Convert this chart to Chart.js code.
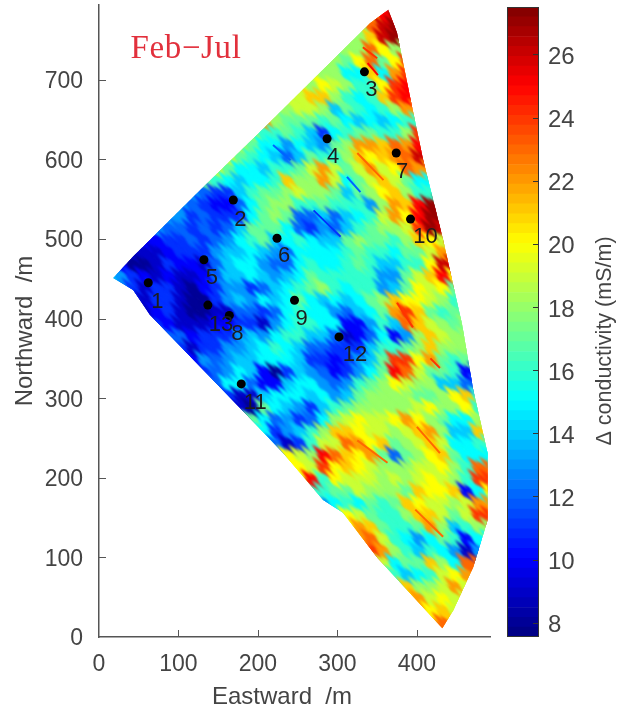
<!DOCTYPE html>
<html>
<head>
<meta charset="utf-8">
<style>
html, body { margin: 0; padding: 0; background: #fff; }
canvas { position: absolute; left: 0; top: 0; }
</style>
<script src="https://cdn.jsdelivr.net/npm/chart.js@4"></script>
</head>
<body>
<canvas id="fancanvas" width="619" height="712"></canvas>
<canvas id="barcanvas" width="619" height="712"></canvas>
<script>
// grid rows, north to south, 15 m cells
var northing = [780,765,750,735,720,705,690,675,660,645,630,615,600,585,570,555,540,525,510,495,480,465,450,435,420,405,390,375,360,345,330,315,300,285,270,255,240,225,210,195,180,165,150,135,120,105,90,75,60,45,30,15];
var firstEast = [345,330,315,300,285,270,255,240,225,210,195,180,165,150,135,120,105,90,75,60,45,30,15,30,45,60,75,90,105,120,135,150,165,180,180,195,210,225,240,255,270,285,315,315,330,345,360,360,375,390,405,420];
var conductivity = [
[22,25,27],
[18,23,26,27],
[18,18,21,26,27,27],
[18,18,18,23,20,18,18],
[18,18,17,20,23,17,20,24],
[19,18,18,15,15,21,15,22,24],
[19,18,20,19,18,16,16,20,24,25],
[19,19,21,21,18,16,15,16,21,24,25,25],
[18,18,19,19,18,14,17,16,15,16,18,22,22],
[22,18,17,17,17,16,17,15,14,15,14,15,16,16],
[18,16,16,17,16,14,11,15,16,17,17,16,16,18,24],
[18,17,15,15,13,15,14,13,17,18,22,22,21,23,22,25],
[19,17,16,15,14,12,14,17,16,16,18,21,20,21,22,23,26,26],
[19,17,15,15,14,16,16,17,19,22,19,17,19,22,19,20,23,22,22],
[17,16,15,14,15,15,16,21,18,18,22,19,15,17,19,21,19,17,15,15],
[13,12,11,11,14,16,17,17,18,19,18,18,17,14,17,18,20,21,18,16,16],
[13,12,11,10,10,12,15,17,18,18,16,16,17,16,16,16,13,18,22,21,25,27,27],
[13,13,11,12,11,11,11,15,17,18,17,12,12,14,12,14,15,16,19,22,20,25,27,27],
[13,12,12,11,12,11,12,14,17,17,17,15,12,11,13,12,14,16,17,18,18,19,24,27,26],
[10,10,11,11,12,11,12,13,15,16,17,14,15,16,15,14,14,17,18,17,17,16,18,21,20,19],
[9,9,9,10,11,11,11,13,14,14,15,14,13,12,15,15,15,15,16,17,16,16,15,17,17,19,22,23],
[10,8,8,9,11,10,10,9,12,14,15,15,13,12,12,15,16,15,15,16,17,16,14,14,16,16,20,26,26],
[14,13,11,10,9,10,9,9,10,12,14,14,15,14,13,14,15,17,16,16,16,16,16,13,13,17,19,21,25,20],
[12,11,9,11,11,9,8,10,11,13,13,11,12,14,15,16,17,18,16,15,16,16,13,14,17,20,19,20,17],
[9,9,11,11,9,8,8,11,13,14,13,15,14,15,17,15,14,15,14,15,17,18,21,20,20,19,18,16],
[9,10,11,9,8,8,9,9,12,12,11,12,15,16,15,15,13,12,14,15,17,22,24,21,17,16,17,17],
[11,10,9,9,9,10,10,11,11,9,13,15,16,16,15,15,10,10,13,16,14,23,21,19,18,17,18],
[12,12,10,11,11,11,13,14,13,15,16,16,14,14,12,9,10,12,15,10,13,18,21,19,18,18],
[11,9,11,11,13,13,14,15,16,15,14,12,12,11,11,11,14,16,16,17,18,21,18,18,18],
[10,13,12,13,14,14,15,15,15,14,11,11,10,11,13,14,17,24,24,20,22,17,16,17,14],
[11,12,13,15,14,10,8,11,14,13,12,10,11,13,15,17,25,23,19,17,17,16,10,10],
[12,15,15,12,10,10,14,15,15,13,12,13,16,17,18,20,19,18,18,14,14,12,12],
[11,9,9,14,15,15,15,14,15,13,14,17,18,18,18,18,17,17,18,20,21,16],
[9,8,17,15,14,13,11,14,16,17,18,18,18,18,18,19,20,18,18,20,16],
[17,17,15,12,13,11,12,15,18,19,20,19,19,20,22,20,18,17,15,15,18,18],
[17,15,11,13,14,16,18,21,21,20,19,19,18,19,21,22,18,14,14,21,21],
[15,12,9,11,16,19,19,23,22,20,21,17,18,19,21,19,15,15,16,16],
[17,20,19,18,25,23,21,20,22,17,12,17,18,20,21,17,15,15,15],
[20,20,19,24,20,21,20,19,18,18,18,19,19,20,18,16,23,23],
[19,25,16,20,19,19,19,18,19,18,19,20,19,18,16,24,24],
[16,16,17,17,19,18,18,18,17,21,20,20,21,10,15,20],
[13,15,16,15,17,16,17,21,20,19,19,18,19,22,22],
[20,19,17,16,16,18,21,21,19,17,19,24,24],
[20,22,21,17,16,16,17,22,18,14,16,18,18],
[22,23,19,16,15,13,15,17,16,10,15,15],
[24,22,18,16,14,16,15,13,9,13],
[19,15,17,17,21,18,15,23,23],
[17,16,14,15,16,19,20,22],
[17,21,18,18,19,22,19],
[21,22,19,20,19,19],
[21,20,21,19],
[22,23]
];
var cellEast = 15;

// edge of the surveyed area
var outlineEast = [364,341,207,130,42,18,43,64,186,232,282,307,350,432,446,471,489,489,471,457,433,408,394,375];
var outlineNorth = [788,771,639,564,477,451,436,405,279,231,172,156,100,11,34,88,147,231,310,392,499,599,666,759];

// thin streaks
var streakStartEast = [270,312,219,325,375,332,338,325,400,398,417];
var streakStartNorth = [536,578,618,608,420,741,721,247,264,160,350];
var streakEndEast = [304,329,241,358,395,350,351,363,429,433,429];
var streakEndNorth = [503,559,599,574,389,727,706,219,231,126,338];
var streakValue = [11,12,12,23,24,24,25,23,23,23,24];

// moorings
var stationLabels = ['1','2','3','4','5','6','7','8','9','10','11','12','13'];
var stationEast = [62,169,334,287,132,224,374,164,246,392,179,302,137];
var stationNorth = [445,549,710,626,474,501,608,404,423,525,318,377,417];

var eastTicks = [0,100,200,300,400];
var northTicks = [0,100,200,300,400,500,600,700];
var barTicks = [8,10,12,14,16,18,20,22,24,26];
var barMin = 7.55;
var barMax = 27.5;
var barLevels = 64;

var labelDx = [9,7,7,6,8,7,6,8,7,15,14,16,13];
var labelDy = [19,20,18,18,18,18,19,19,19,18,19,18,20];

function jet(v) {
    var t = (v - barMin) / (barMax - barMin);
    function c(a) { return Math.round(255 * Math.max(0, Math.min(1, 1.5 - Math.abs(4 * t - a)))); }
    return 'rgb(' + c(3) + ',' + c(2) + ',' + c(1) + ')';
}

// one long NW-SE sliver per colour, the survey's grain runs that way
var sliverCache = {};
function sliver(color) {
    if (sliverCache[color]) return sliverCache[color];
    var c = document.createElement('canvas');
    c.width = 30; c.height = 30;
    var g = c.getContext('2d');
    g.fillStyle = color;
    g.beginPath();
    g.moveTo(1, 1); g.lineTo(18, 12); g.lineTo(29, 29); g.lineTo(12, 18);
    g.closePath();
    g.fill();
    sliverCache[color] = c;
    return c;
}

var cellPoints = [], cellColors = [], cellSlivers = [];
northing.forEach(function(n, i) {
    conductivity[i].forEach(function(v, j) {
        cellPoints.push({x: firstEast[i] + j * cellEast, y: n});
        cellColors.push(jet(v));
        cellSlivers.push(sliver(jet(v)));
    });
});

// bigger order goes underneath
var datasets = [{
    type: 'scatter',
    order: 4,
    data: cellPoints,
    pointStyle: 'rectRot',
    pointRadius: 12.5,
    pointBorderWidth: 0,
    backgroundColor: cellColors,
    fanClip: true,
    blurPx: 2
}, {
    type: 'scatter',
    order: 3,
    data: cellPoints,
    pointStyle: cellSlivers,
    pointRadius: 15,
    pointBorderWidth: 0,
    backgroundColor: cellColors,
    fanClip: true,
    blurPx: 0.9
}];
streakValue.forEach(function(v, i) {
    datasets.push({
        type: 'line',
        order: 2,
        data: [{x: streakStartEast[i], y: streakStartNorth[i]}, {x: streakEndEast[i], y: streakEndNorth[i]}],
        borderColor: jet(v),
        borderWidth: 2,
        pointRadius: 0,
        fanClip: true,
        blurPx: 0.6
    });
});
datasets.push({
    type: 'scatter',
    order: 1,
    data: stationEast.map(function(e, i) { return {x: e, y: stationNorth[i]}; }),
    pointStyle: 'circle',
    pointRadius: 4.5,
    pointBorderWidth: 0,
    backgroundColor: '#000'
});

function inwardTicks(ctx, chart) {
    var sx = chart.scales.x, sy = chart.scales.y, a = chart.chartArea;
    ctx.strokeStyle = '#555';
    ctx.lineWidth = 1;
    ctx.beginPath();
    eastTicks.forEach(function(v) {
        if (v === 0) return;
        var p = Math.round(sx.getPixelForValue(v)) + 0.5;
        ctx.moveTo(p, a.bottom); ctx.lineTo(p, a.bottom - 7);
    });
    northTicks.forEach(function(v) {
        if (v === 0) return;
        var p = Math.round(sy.getPixelForValue(v)) + 0.5;
        ctx.moveTo(a.left, p); ctx.lineTo(a.left + 7, p);
    });
    ctx.stroke();
}

var fanPlugin = {
    id: 'fan',
    beforeDatasetDraw: function(chart, args) {
        var ds = chart.data.datasets[args.index];
        if (!ds.fanClip) return;
        var ctx = chart.ctx, sx = chart.scales.x, sy = chart.scales.y;
        ctx.save();
        ctx.beginPath();
        outlineEast.forEach(function(e, i) {
            ctx.lineTo(sx.getPixelForValue(e), sy.getPixelForValue(outlineNorth[i]));
        });
        ctx.closePath();
        ctx.clip();
        ctx.filter = 'blur(' + ds.blurPx + 'px)';
    },
    afterDatasetDraw: function(chart, args) {
        if (chart.data.datasets[args.index].fanClip) chart.ctx.restore();
    },
    afterDatasetsDraw: function(chart) {
        var ctx = chart.ctx, sx = chart.scales.x, sy = chart.scales.y;
        ctx.save();
        inwardTicks(ctx, chart);
        ctx.fillStyle = '#1c1c1c';
        ctx.font = '22px "Liberation Sans"';
        ctx.textAlign = 'center';
        ctx.textBaseline = 'middle';
        stationLabels.forEach(function(s, i) {
            ctx.fillText(s, sx.getPixelForValue(stationEast[i]) + labelDx[i], sy.getPixelForValue(stationNorth[i]) + labelDy[i]);
        });
        ctx.fillStyle = '#444';
        ctx.font = '24px "Liberation Sans"';
        ctx.fillText('Eastward  /m', 282, 697);
        ctx.save();
        ctx.translate(25, 331);
        ctx.rotate(-Math.PI / 2);
        ctx.fillText('Northward  /m', 0, 0);
        ctx.restore();
        ctx.fillStyle = '#e2303c';
        ctx.font = '33px "Liberation Serif"';
        ctx.letterSpacing = '0.6px';
        ctx.fillText('Feb\u2212Jul', 186, 49);
        ctx.restore();
    }
};

var fanChart = new Chart(document.getElementById('fancanvas').getContext('2d'), {
    data: {datasets: datasets},
    plugins: [fanPlugin],
    options: {
        responsive: false,
        animation: false,
        layout: {autoPadding: false, padding: {top: 5, right: 129}},
        plugins: {legend: {display: false}, tooltip: {enabled: false}},
        scales: {
            x: {
                type: 'linear', min: 0, max: 492,
                afterFit: function(s) { s.height = 75; s.paddingLeft = 0; s.paddingRight = 0; },
                afterBuildTicks: function(s) { s.ticks = eastTicks.map(function(v) { return {value: v}; }); },
                grid: {drawOnChartArea: false, drawTicks: false},
                border: {color: '#555', width: 1.5},
                ticks: {color: '#444', font: {family: 'Liberation Sans', size: 23}, padding: 14, maxRotation: 0}
            },
            y: {
                type: 'linear', min: 0, max: 794,
                afterFit: function(s) { s.width = 99; s.paddingTop = 0; s.paddingBottom = 0; },
                afterBuildTicks: function(s) { s.ticks = northTicks.map(function(v) { return {value: v}; }); },
                grid: {drawOnChartArea: false, drawTicks: false},
                border: {color: '#555', width: 1.5},
                ticks: {color: '#444', font: {family: 'Liberation Sans', size: 23}, padding: 16, labelOffset: 2}
            }
        }
    }
});

// colour bar
var barDatasets = [];
for (var k = 0; k < barLevels; k++) {
    var lo = barMin + (barMax - barMin) * k / barLevels;
    var hi = barMin + (barMax - barMin) * (k + 1) / barLevels;
    barDatasets.push({
        data: [[lo, hi]],
        backgroundColor: jet((lo + hi) / 2),
        borderWidth: 0,
        barPercentage: 1,
        categoryPercentage: 1
    });
}
var barPlugin = {
    id: 'barlabel',
    afterDraw: function(chart) {
        var ctx = chart.ctx, a = chart.chartArea, sy = chart.scales.y;
        ctx.save();
        ctx.strokeStyle = '#333';
        ctx.lineWidth = 1;
        ctx.strokeRect(a.left + 0.5, a.top + 0.5, a.right - a.left - 1, a.bottom - a.top - 1);
        ctx.beginPath();
        barTicks.forEach(function(v) {
            var p = Math.round(sy.getPixelForValue(v)) + 0.5;
            ctx.moveTo(a.right, p); ctx.lineTo(a.right - 6, p);
        });
        ctx.stroke();
        ctx.translate(605, 341);
        ctx.rotate(-Math.PI / 2);
        ctx.fillStyle = '#444';
        ctx.font = '21.5px "Liberation Sans"';
        ctx.textAlign = 'center';
        ctx.textBaseline = 'middle';
        ctx.fillText('\u0394 conductivity (mS/m)', 0, 0);
        ctx.restore();
    }
};
var barChart = new Chart(document.getElementById('barcanvas').getContext('2d'), {
    type: 'bar',
    data: {labels: [''], datasets: barDatasets},
    plugins: [barPlugin],
    options: {
        responsive: false,
        animation: false,
        layout: {padding: {left: 507, top: 7, bottom: 75}},
        plugins: {legend: {display: false}, tooltip: {enabled: false}},
        scales: {
            x: {display: false, stacked: true},
            y: {
                position: 'right', min: barMin, max: barMax,
                afterFit: function(s) { s.width = 80; s.paddingTop = 0; s.paddingBottom = 0; },
                afterBuildTicks: function(s) { s.ticks = barTicks.map(function(v) { return {value: v}; }); },
                grid: {drawOnChartArea: false, drawTicks: false},
                border: {display: false},
                ticks: {color: '#444', font: {family: 'Liberation Sans', size: 24}, padding: 9, labelOffset: 3}
            }
        }
    }
});
</script>
</body>
</html>
